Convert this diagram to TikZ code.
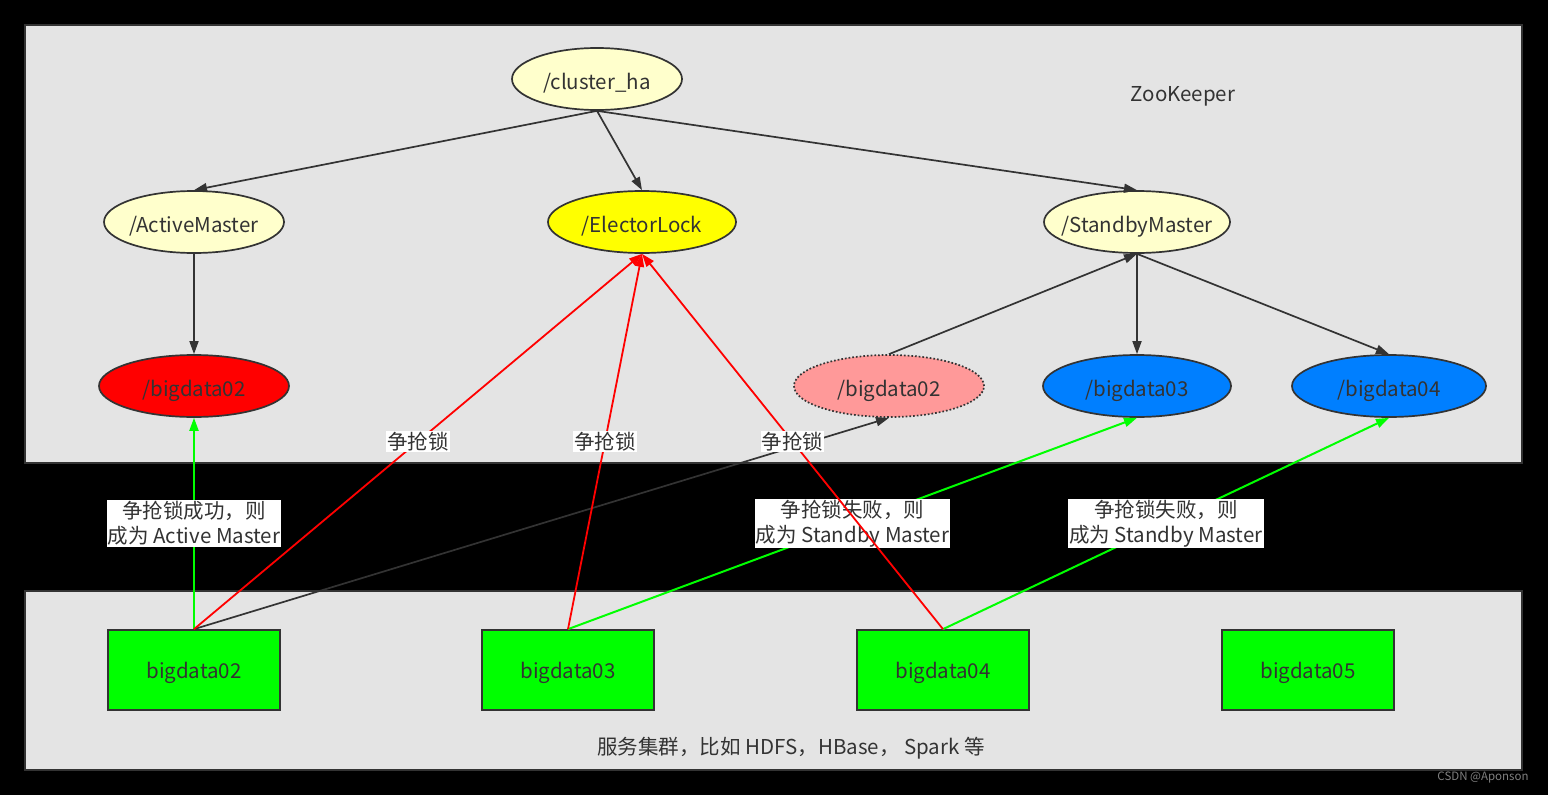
\documentclass[tikz,border=0pt]{standalone}
\usepackage{fontspec}
\setmainfont{Noto Sans CJK SC}
\usetikzlibrary{shapes.geometric,arrows.meta}
\definecolor{cream}{HTML}{FFFFCC}
\definecolor{lockyellow}{HTML}{FFFF00}
\definecolor{actred}{HTML}{FF0000}
\definecolor{pinkish}{HTML}{FF9999}
\definecolor{stblue}{HTML}{007FFF}
\definecolor{srvgreen}{HTML}{00FF00}
\definecolor{panelgrey}{HTML}{E4E4E4}
\definecolor{stroke}{HTML}{333333}
\tikzset{
  ell/.style={ellipse, draw=stroke, line width=1.7pt, inner ysep=0pt, inner xsep=-45pt,
    text=stroke, text height=21pt, text depth=0pt, font=\fontsize{20.5}{24}\selectfont},
  srv/.style={rectangle, draw=stroke, line width=1.7pt, fill=srvgreen, inner sep=0pt,
    minimum width=172pt, minimum height=80pt, text=stroke, text depth=0pt,
    font=\fontsize{20.5}{24}\selectfont},
  panel/.style={fill=panelgrey, draw=stroke, line width=2pt},
  tip/.style={-{Triangle[length=13pt,width=9pt]}},
  darkedge/.style={tip, draw=stroke, line width=1.7pt},
  rededge/.style={tip, draw=actred, line width=1.8pt},
  greenedge/.style={tip, draw=srvgreen, line width=2pt},
  lbl/.style={fill=white, inner sep=1pt, text=stroke, align=center,
    font=\fontsize{20.5}{25}\selectfont},
  plain/.style={text=stroke, inner sep=0pt, text depth=0pt, font=\fontsize{20.5}{24}\selectfont}
}
\begin{document}
\begin{tikzpicture}[x=1pt,y=-1pt]
\useasboundingbox (0,0) rectangle (1548,795);
\fill[black] (0,0) rectangle (1548,795);
% panels
\draw[panel] (25,25) rectangle (1522,463);
\draw[panel] (25,591) rectangle (1522,770);
\node[plain] (zk) at (1183,94) {ZooKeeper};
\node[plain] (cap) at (791,746) {服务集群，比如 HDFS，HBase， Spark 等};
\node[text=gray, inner sep=0pt, font=\fontsize{11.5}{13}\selectfont] (csdn) at (1483,778) {CSDN @Aponson};
% znodes
\node[ell, fill=cream, minimum width=170pt, minimum height=62pt] (ch) at (597,79) {/cluster\_ha};
\node[ell, fill=cream, minimum width=180pt, minimum height=62pt] (am) at (194,222) {/ActiveMaster};
\node[ell, fill=lockyellow, minimum width=188pt, minimum height=62pt] (el) at (642,222) {/ElectorLock};
\node[ell, fill=cream, minimum width=186pt, minimum height=62pt] (sm) at (1137,222) {/StandbyMaster};
\node[ell, fill=actred, minimum width=190pt, minimum height=62pt] (a02) at (194,386) {/bigdata02};
\node[ell, fill=pinkish, dotted, minimum width=190pt, minimum height=62pt] (s02) at (889,386) {/bigdata02};
\node[ell, fill=stblue, minimum width=188pt, minimum height=62pt] (s03) at (1137,386) {/bigdata03};
\node[ell, fill=stblue, minimum width=194pt, minimum height=62pt] (s04) at (1389,386) {/bigdata04};
% servers
\node[srv] (b02) at (194,670) {bigdata02};
\node[srv] (b03) at (568,670) {bigdata03};
\node[srv] (b04) at (943,670) {bigdata04};
\node[srv] (b05) at (1308,670) {bigdata05};
% tree edges
\draw[darkedge] (ch.south) -- (am.north);
\draw[darkedge] (ch.south) -- (el.north);
\draw[darkedge] (ch.south) -- (sm.north);
\draw[darkedge] (am.south) -- (a02.north);
\draw[darkedge] (sm.south) -- (s03.north);
\draw[darkedge] (sm.south) -- (s04.north);
\draw[darkedge] (s02.north) -- (sm.south);
\draw[darkedge] (b02.north) -- (s02.south);
% green edges
\draw[greenedge] (b02.north) -- node[lbl] {争抢锁成功，则\\成为 Active Master} (a02.south);
\draw[greenedge] (b03.north) -- node[lbl] {争抢锁失败，则\\成为 Standby Master} (s03.south);
\draw[greenedge] (b04.north) -- node[lbl] {争抢锁失败，则\\成为 Standby Master} (s04.south);
% red edges
\draw[rededge] (b02.north) -- node[lbl] {争抢锁} (el.south);
\draw[rededge] (b03.north) -- node[lbl] {争抢锁} (el.south);
\draw[rededge] (b04.north) -- node[lbl] {争抢锁} (el.south);
\end{tikzpicture}
\end{document}
